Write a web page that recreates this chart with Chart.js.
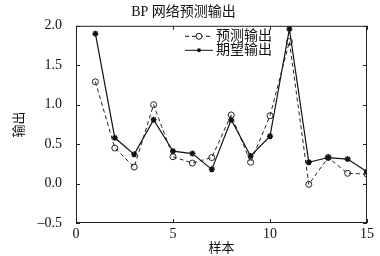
<!DOCTYPE html>
<html>
<head>
<meta charset="utf-8">
<script src="https://cdn.jsdelivr.net/npm/chart.js@4"></script>
<style>
body{margin:0;background:#fff;}
#wrap{width:380px;height:256px;}
</style>
</head>
<body>
<div id="wrap"><canvas id="gp" width="380" height="256"></canvas></div>
<script>
const ctx=document.getElementById("gp");

const samples=[1,2,3,4,5,6,7,8,9,10,11,12,13,14,15];
const predicted=[1.29,0.45,0.21,1.00,0.34,0.26,0.33,0.87,0.27,0.86,1.80,-0.01,0.33,0.13,0.12];
const expected=[1.90,0.58,0.37,0.81,0.41,0.38,0.18,0.81,0.35,0.60,1.96,0.27,0.33,0.31,0.15];
const xTicks=[0,5,10,15];
const yTicks=[-0.5,0,0.5,1.0,1.5,2.0];

const serif="'Liberation Serif','DejaVu Serif',serif";
const cjk="'Liberation Serif','Noto Sans CJK SC',serif";

// 边框 + 向内刻度 + 图例
const boxPlugin={
    id:"box",
    afterDatasetsDraw(chart){
        const c=chart.ctx, a=chart.chartArea;
        const xs=chart.scales.x, ys=chart.scales.y;
        c.save();
        c.strokeStyle="#222";
        c.lineWidth=1;
        c.strokeRect(a.left+0.5,a.top+0.5,a.right-a.left-1,a.bottom-a.top-1);
        c.beginPath();
        xTicks.forEach(v=>{
            const px=Math.round(xs.getPixelForValue(v))+0.5;
            c.moveTo(px,a.bottom);c.lineTo(px,a.bottom-4);
            c.moveTo(px,a.top);c.lineTo(px,a.top+4);
        });
        yTicks.forEach(v=>{
            const py=Math.round(ys.getPixelForValue(v))+0.5;
            c.moveTo(a.left,py);c.lineTo(a.left+4,py);
            c.moveTo(a.right,py);c.lineTo(a.right-4,py);
        });
        c.stroke();

        // 图例
        const lx=a.left+109, ly=a.top+10;
        chart.data.datasets.forEach((ds,i)=>{
            const y=ly+i*14;
            c.strokeStyle="#111";
            c.lineWidth=1;
            c.setLineDash(ds.borderDash||[]);
            c.beginPath();c.moveTo(lx,y+0.5);c.lineTo(lx+28,y+0.5);c.stroke();
            c.setLineDash([]);
            c.beginPath();
            if(ds.pointStyle==="circle"){
                c.fillStyle="#fff";
                c.arc(lx+14,y+0.5,3,0,Math.PI*2);c.fill();c.stroke();
            }else{
                c.fillStyle="#111";
                c.arc(lx+14,y+0.5,2,0,Math.PI*2);c.fill();
            }
            c.fillStyle="#111";
            c.font="14px "+cjk;
            c.textBaseline="middle";
            c.fillText(ds.label,lx+31,y+1);
        });
        c.restore();
    }
};

new Chart(ctx,{
    type:"line",
    data:{
        datasets:[
            {
                label:"预测输出",
                data:samples.map((s,i)=>({x:s,y:predicted[i]})),
                borderColor:"#222",
                borderWidth:1,
                borderDash:[4,3],
                pointStyle:"circle",
                pointRadius:3,
                pointBackgroundColor:"rgba(255,255,255,0)",
                pointBorderColor:"#222",
                pointBorderWidth:1,
                tension:0,
            },
            {
                label:"期望输出",
                data:samples.map((s,i)=>({x:s,y:expected[i]})),
                borderColor:"#111",
                borderWidth:1.2,
                pointStyle:"star",
                pointRadius:3,
                pointBackgroundColor:"#111",
                pointBorderColor:"#111",
                pointBorderWidth:1.5,
                tension:0,
            },
        ],
    },
    options:{
        responsive:false,
        animation:false,
        layout:{padding:{left:0,right:13,top:0,bottom:0}},
        plugins:{
            legend:{display:false},
            tooltip:{enabled:false},
            title:{
                display:true,
                text:"BP 网络预测输出",
                color:"#111",
                font:{family:cjk,size:14,weight:"normal"},
                padding:{top:4,bottom:5},
            },
        },
        scales:{
            x:{
                type:"linear",
                min:0,max:15,
                afterFit(s){s.height=33;},
                afterBuildTicks(s){s.ticks=xTicks.map(v=>({value:v}));},
                grid:{display:false,drawTicks:false},
                border:{display:false},
                ticks:{color:"#111",font:{family:serif,size:14},padding:3,maxRotation:0},
                title:{display:true,text:"样本",color:"#111",font:{family:cjk,size:13},padding:{top:0,bottom:0}},
            },
            y:{
                min:-0.5,max:2,
                afterFit(s){s.width=76;},
                afterBuildTicks(s){s.ticks=yTicks.map(v=>({value:v}));},
                grid:{display:false},
                border:{display:false},
                ticks:{
                    color:"#111",
                    font:{family:serif,size:14},
                    padding:6,
                    callback:v=>v<0?"\u2013"+Math.abs(v).toFixed(1):v.toFixed(1),
                },
                title:{display:true,text:"输出",color:"#111",font:{family:cjk,size:13},padding:{top:12,bottom:0}},
            },
        },
    },
    plugins:[boxPlugin],
});
</script>
</body>
</html>
